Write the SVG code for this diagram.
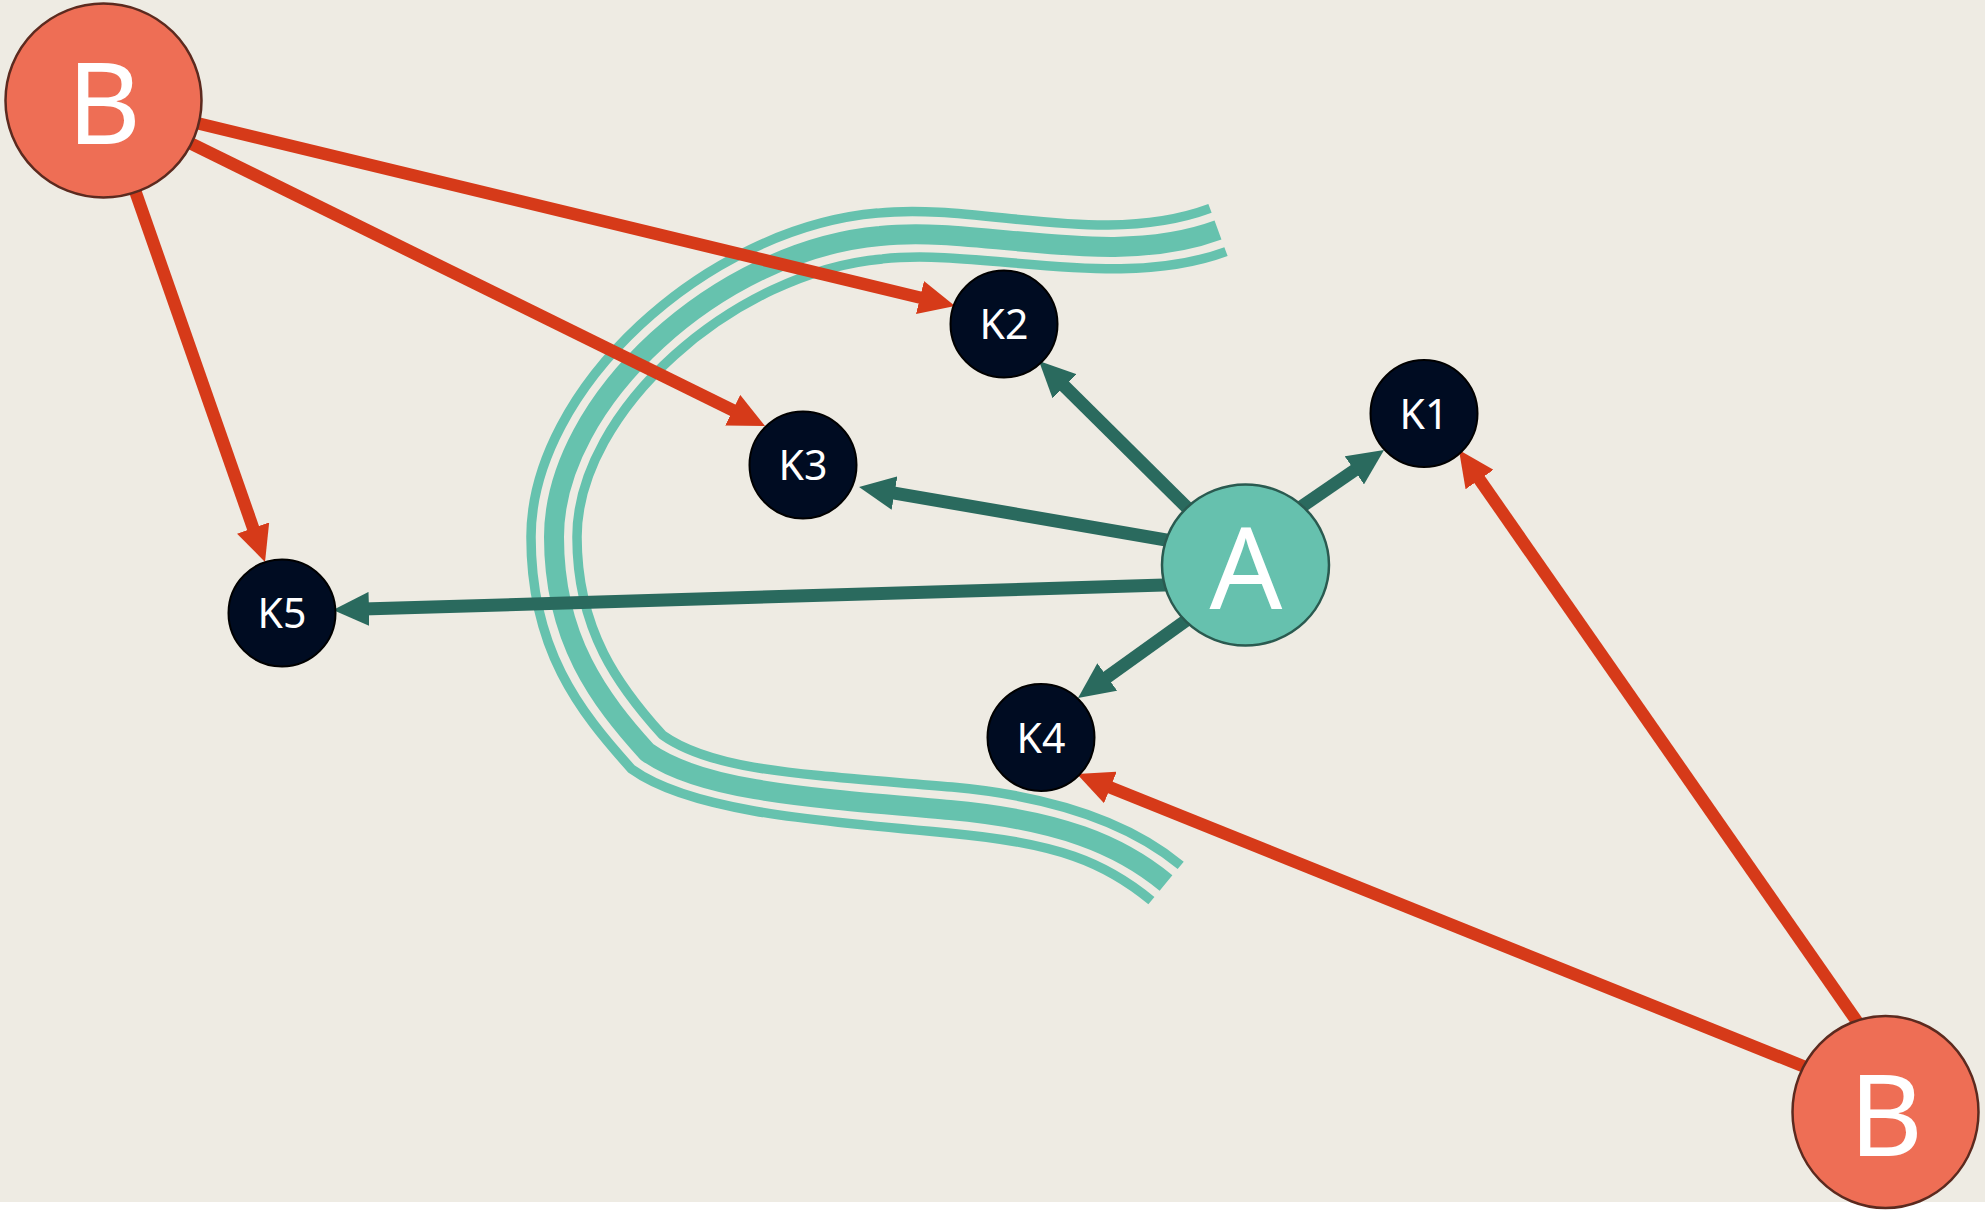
<svg xmlns="http://www.w3.org/2000/svg" width="1985" height="1210" viewBox="0 0 1985 1210">
<defs>
<style>
.band{fill:none;stroke:#66c2ae;stroke-linecap:butt;stroke-linejoin:miter}
.thin{stroke-width:9.5}
.thick{stroke-width:20}
.red{fill:none;stroke:#d63a19;stroke-width:12.5;marker-end:url(#arR)}
.grn{fill:none;stroke:#2a6a5e;stroke-width:13;marker-end:url(#arG)}
.b{fill:#ee6e55;stroke:#5c2a1f;stroke-width:2.5}
.a{fill:#66c1ae;stroke:#2a5a50;stroke-width:2.5}
.k{fill:#000c22;stroke:#000000;stroke-width:2}
.lbl{fill:#ffffff;font-family:"Noto Sans","Open Sans","DejaVu Sans",sans-serif;text-anchor:middle}
.big{font-size:114px}
.sm{font-size:41px}
</style>
<marker id="arR" markerUnits="userSpaceOnUse" markerWidth="36" markerHeight="34" viewBox="0 0 36 34" refX="6" refY="17" orient="auto"><path d="M0,0 L36,17 L0,34 z" fill="#d63a19"/></marker>
<marker id="arG" markerUnits="userSpaceOnUse" markerWidth="36" markerHeight="34" viewBox="0 0 36 34" refX="6" refY="17" orient="auto"><path d="M0,0 L36,17 L0,34 z" fill="#2a6a5e"/></marker>
</defs>
<rect x="0" y="0" width="1985" height="1210" fill="#ffffff"/>
<rect x="0" y="0" width="1985" height="1202" fill="#eeebe3"/>
<g id="bands">
<path class="band thin" d="M 1210 208.4 C 1102 248.4 977.7 202.1 877.7 213.1 C 705.5 228 531 389.5 531 537 C 531 649 578.7 710.7 631.7 769.2 C 686.6 808.7 798 819.9 948 832.9 C 1058 842.9 1105.4 862.7 1151.4 900.7"/>
<path class="band thick" d="M 1218 230 C 1110 270 980 225 880 236 C 720 250 554 400 554 537 C 554 640 600 700 647 752 C 700 790 800 797 950 810 C 1060 820 1120 845 1166 883"/>
<path class="band thin" d="M 1226 251.6 C 1118 291.6 982.3 247.9 882.3 258.9 C 734.6 271.8 577 410.5 577 537 C 577 630.7 619.5 687.5 662.3 734.8 C 713.4 771.3 802 774.1 952 787.1 C 1062 797.1 1134.7 827.3 1180.7 865.3"/>
</g>
<g id="connectors">
<path class="red" d="M 103.5 100.5 L 925.8 299"/>
<path class="red" d="M 103.5 100.5 L 738.1 412.8"/>
<path class="red" d="M 103.5 100.5 L 255.1 533.7"/>
<path class="red" d="M 1865 1033 L 1476.1 474.6"/>
<path class="red" d="M 1815 1071 L 1104.8 785.2"/>
<path class="grn" d="M 1245 565 L 1060.3 382.1"/>
<path class="grn" d="M 1250 542 L 1359.3 467"/>
<path class="grn" d="M 1230 551 L 888.6 492.1"/>
<path class="grn" d="M 1230 583 L 363 609.1"/>
<path class="grn" d="M 1216 599 L 1102.4 680.5"/>
</g>
<g id="node-B1"><ellipse class="b" cx="103.5" cy="100.5" rx="98" ry="97"/><text class="lbl big" x="104" y="144">B</text></g>
<g id="node-B2"><ellipse class="b" cx="1885.5" cy="1112" rx="93" ry="96"/><text class="lbl big" x="1886" y="1156">B</text></g>
<g id="node-A"><ellipse class="a" cx="1245.5" cy="565" rx="83.5" ry="80.5"/><text class="lbl big" x="1246" y="609">A</text></g>
<g id="node-K1"><circle class="k" cx="1424" cy="413.5" r="53.5"/><text class="lbl sm" x="1424" y="429">K1</text></g>
<g id="node-K2"><circle class="k" cx="1004" cy="324" r="53.5"/><text class="lbl sm" x="1004" y="339">K2</text></g>
<g id="node-K3"><circle class="k" cx="803" cy="465" r="53.5"/><text class="lbl sm" x="803" y="480">K3</text></g>
<g id="node-K4"><circle class="k" cx="1041" cy="737.5" r="53.5"/><text class="lbl sm" x="1041" y="753">K4</text></g>
<g id="node-K5"><circle class="k" cx="282" cy="613" r="53.5"/><text class="lbl sm" x="282" y="628">K5</text></g>
</svg>
